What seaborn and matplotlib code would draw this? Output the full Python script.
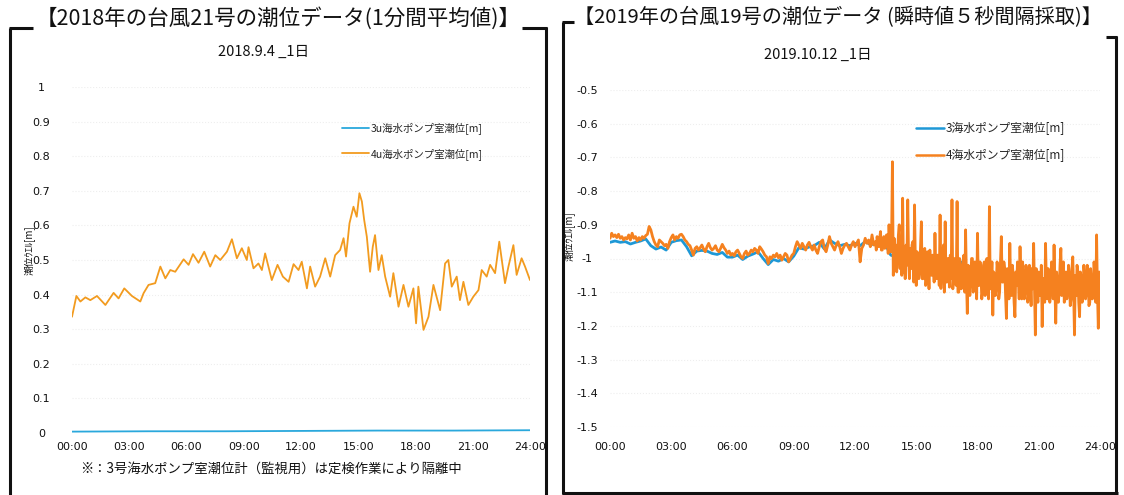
import numpy as np
import pandas as pd
import matplotlib.pyplot as plt
import seaborn as sns
from matplotlib.lines import Line2D

"""Datos leidos del grafico"""

# 2018 台風21号 (1分間平均値) : hora, nivel [m]
h18 = [0.00, 0.23, 0.44, 0.70, 0.96, 1.31, 1.75, 2.18, 2.44, 2.74, 3.14, 3.58, 3.75, 4.01,
       4.36, 4.63, 4.89, 5.15, 5.41, 5.85, 6.11, 6.34, 6.63, 6.93, 7.24, 7.51, 7.77, 8.12,
       8.38, 8.64, 8.90, 9.16, 9.25, 9.51, 9.77, 9.95, 10.12, 10.47, 10.77, 11.05, 11.35,
       11.61, 11.87, 12.04, 12.31, 12.48, 12.74, 13.00, 13.27, 13.53, 13.79, 14.05, 14.23,
       14.36, 14.54, 14.75, 14.92, 15.06, 15.19, 15.31, 15.45, 15.62, 15.76, 15.88, 16.06,
       16.23, 16.41, 16.67, 16.84, 17.11, 17.37, 17.63, 17.89, 18.03, 18.15, 18.42, 18.68,
       18.94, 19.29, 19.55, 19.72, 19.90, 20.16, 20.33, 20.51, 20.77, 21.03, 21.30, 21.47,
       21.73, 21.91, 22.17, 22.39, 22.69, 22.87, 23.13, 23.30, 23.56, 23.74, 24.00]
u4_18 = [0.336, 0.396, 0.380, 0.392, 0.384, 0.396, 0.370, 0.405, 0.389, 0.418, 0.396, 0.380,
         0.404, 0.428, 0.433, 0.481, 0.447, 0.471, 0.466, 0.502, 0.486, 0.517, 0.492, 0.524,
         0.481, 0.514, 0.500, 0.524, 0.560, 0.505, 0.534, 0.500, 0.537, 0.476, 0.490, 0.471,
         0.519, 0.442, 0.486, 0.452, 0.437, 0.488, 0.471, 0.495, 0.418, 0.481, 0.423, 0.452,
         0.505, 0.452, 0.514, 0.529, 0.563, 0.510, 0.606, 0.654, 0.625, 0.693, 0.669, 0.616,
         0.567, 0.466, 0.538, 0.572, 0.471, 0.514, 0.452, 0.394, 0.462, 0.365, 0.428, 0.365,
         0.418, 0.317, 0.423, 0.298, 0.336, 0.428, 0.355, 0.490, 0.500, 0.423, 0.452, 0.384,
         0.437, 0.370, 0.394, 0.413, 0.471, 0.452, 0.486, 0.462, 0.553, 0.433, 0.481, 0.543,
         0.457, 0.505, 0.481, 0.442]
h18_u3 = [0, 4, 8, 12, 16, 20, 24]
u3_18 = [0.004, 0.005, 0.005, 0.006, 0.007, 0.007, 0.008]

# 2019 台風19号 (瞬時値), 4号 : 00:00-13:00 -> 12 valores por hora
u4_19_am = [
    -0.940, -0.925, -0.935, -0.930, -0.938, -0.928, -0.940, -0.935, -0.945, -0.938, -0.942, -0.930,  # 0h
    -0.945, -0.925, -0.940, -0.935, -0.948, -0.938, -0.945, -0.935, -0.940, -0.932, -0.928, -0.905,  # 1h
    -0.915, -0.935, -0.950, -0.960, -0.965, -0.945, -0.950, -0.955, -0.962, -0.958, -0.970, -0.950,  # 2h
    -0.938, -0.930, -0.945, -0.935, -0.940, -0.930, -0.928, -0.935, -0.945, -0.950, -0.958, -0.962,  # 3h
    -0.975, -0.990, -0.970, -0.965, -0.975, -0.968, -0.960, -0.972, -0.980, -0.965, -0.955, -0.968,  # 4h
    -0.975, -0.970, -0.962, -0.975, -0.980, -0.970, -0.958, -0.968, -0.975, -0.985, -0.978, -0.990,  # 5h
    -0.985, -0.992, -0.980, -0.975, -0.985, -0.995, -1.000, -0.985, -0.978, -0.990, -0.985, -0.975,  # 6h
    -0.980, -0.970, -0.975, -0.985, -0.965, -0.972, -0.980, -0.990, -0.995, -1.015, -0.995, -1.000,  # 7h
    -0.990, -0.995, -0.985, -0.998, -0.990, -1.005, -0.995, -0.985, -0.990, -1.010, -1.000, -0.990,  # 8h
    -0.985, -0.965, -0.950, -0.960, -0.970, -0.955, -0.965, -0.975, -0.960, -0.952, -0.965, -0.975,  # 9h
    -0.960, -0.975, -0.985, -0.965, -0.950, -0.945, -0.970, -0.980, -0.960, -0.935, -0.955, -0.965,  # 10h
    -0.975, -0.960, -0.950, -0.965, -0.985, -0.970, -0.960, -0.955, -0.965, -0.975, -0.960, -0.950,  # 11h
    -0.965, -0.955, -0.945, -1.010, -0.970, -0.960, -0.940, -0.955, -0.945, -0.965, -0.930, -0.960]  # 12h
# 4号 : 13:00-24:00 -> 24 valores por hora (oscilacion fuerte)
u4_19_pm = [
    -0.950, -0.975, -0.935, -0.960, -0.965, -0.940, -0.920, -0.975, -0.975, -0.945, -0.935, -0.970,
    -0.960, -0.930, -0.930, -0.985, -0.900, -0.960, -0.980, -0.940, -0.713, -1.050, -0.940, -0.990,  # 13h
    -0.960, -1.040, -0.990, -0.930, -0.900, -1.030, -0.960, -1.050, -0.821, -1.040, -0.970, -1.060,
    -0.960, -1.020, -0.826, -1.000, -1.060, -0.970, -1.030, -0.960, -0.950, -1.070, -0.841, -1.020,  # 14h
    -1.080, -0.980, -0.990, -1.060, -1.040, -0.970, -0.891, -1.060, -1.060, -0.990, -0.970, -1.080,
    -1.070, -0.980, -1.010, -1.090, -0.975, -1.040, -1.050, -0.990, -1.000, -1.070, -0.925, -1.040,  # 15h
    -1.060, -0.990, -0.995, -1.080, -0.871, -1.089, -1.020, -0.990, -0.960, -1.100, -0.891, -1.070,
    -1.070, -1.000, -1.000, -1.085, -0.990, -1.060, -0.826, -1.090, -1.050, -1.000, -1.010, -1.080,  # 16h
    -0.831, -1.100, -1.100, -1.000, -1.030, -1.090, -1.060, -1.010, -0.990, -1.100, -0.915, -1.060,
    -1.163, -1.020, -1.040, -1.110, -1.070, -1.000, -1.000, -1.100, -1.060, -1.010, -1.020, -1.120,  # 17h
    -0.925, -1.080, -1.080, -1.010, -1.040, -1.120, -1.100, -1.020, -1.010, -1.110, -1.070, -1.000,
    -1.030, -1.120, -0.846, -1.090, -1.090, -1.010, -1.168, -1.040, -1.050, -1.110, -1.080, -1.010,  # 18h
    -1.040, -1.120, -1.100, -1.010, -0.935, -1.070, -1.070, -1.010, -1.030, -1.110, -1.178, -1.030,
    -1.060, -1.120, -0.955, -1.080, -1.110, -1.020, -1.050, -1.130, -1.173, -1.040, -1.080, -1.010,  # 19h
    -1.060, -1.120, -0.965, -1.080, -1.120, -1.010, -1.050, -1.120, -1.090, -1.020, -1.040, -1.130,
    -1.110, -1.020, -1.070, -1.140, -1.030, -1.090, -0.955, -1.100, -1.227, -1.030, -1.080, -1.130,  # 20h
    -1.040, -1.110, -1.110, -1.020, -1.202, -1.060, -1.060, -1.130, -0.955, -1.080, -1.120, -1.030,
    -1.050, -1.130, -1.090, -1.010, -1.030, -1.120, -0.960, -1.090, -1.192, -1.040, -1.070, -1.130,  # 21h
    -1.100, -1.020, -0.970, -1.110, -1.060, -1.010, -1.130, -1.060, -1.040, -1.120, -1.090, -1.020,
    -1.050, -1.140, -1.120, -1.030, -0.995, -1.100, -1.227, -1.050, -1.110, -1.020, -1.040, -1.130,  # 22h
    -1.173, -1.040, -1.060, -1.130, -1.090, -1.020, -1.050, -1.120, -1.100, -1.020, -1.060, -1.140,
    -1.130, -1.030, -1.070, -1.120, -1.110, -1.010, -1.060, -1.130, -0.930, -1.100, -1.207, -1.040,  # 23h
    -1.050]
# 3号: 4 valores por hora
u3_19 = [
    -0.952, -0.948, -0.952, -0.950, -0.957, -0.952, -0.948, -0.942,
    -0.962, -0.972, -0.966, -0.975, -0.952, -0.947, -0.945, -0.965,
    -0.992, -0.978, -0.976, -0.978, -0.985, -0.988, -0.982, -0.996,
    -0.996, -0.990, -1.003, -0.993, -0.987, -0.980, -1.000, -1.018,
    -1.003, -1.008, -1.000, -1.010, -0.993, -0.968, -0.972, -0.966,
    -0.962, -0.952, -0.972, -0.945, -0.955, -0.962, -0.958, -0.962,
    -0.955, -0.962, -0.950, -0.958, -0.958, -0.945, -0.960, -0.990,
    -0.995, -0.990, -1.000, -0.990, -1.000, -1.005, -0.995, -1.000,
    -1.010, -0.995, -1.005, -1.020, -1.030, -1.010, -1.040, -1.050,
    -1.040, -1.060, -1.050, -1.065, -1.055, -1.065, -1.050, -1.075,
    -1.065, -1.055, -1.075, -1.070, -1.075, -1.065, -1.085, -1.070,
    -1.080, -1.065, -1.075, -1.085, -1.075, -1.065, -1.080, -1.070,
    -1.075]

xticks = [0, 3, 6, 9, 12, 15, 18, 21, 24]
xlabels = ["00:00", "03:00", "06:00", "09:00", "12:00", "15:00", "18:00", "21:00", "24:00"]
yt18 = [0, 0.1, 0.2, 0.3, 0.4, 0.5, 0.6, 0.7, 0.8, 0.9, 1]
yl18 = ["0", "0.1", "0.2", "0.3", "0.4", "0.5", "0.6", "0.7", "0.8", "0.9", "1"]
yt19 = [-1.5, -1.4, -1.3, -1.2, -1.1, -1, -0.9, -0.8, -0.7, -0.6, -0.5]
yl19 = ["-1.5", "-1.4", "-1.3", "-1.2", "-1.1", "-1", "-0.9", "-0.8", "-0.7", "-0.6", "-0.5"]

lab3_18, lab4_18 = "3u海水ポンプ室潮位[m]", "4u海水ポンプ室潮位[m]"
lab3_19, lab4_19 = "3海水ポンプ室潮位[m]", "4海水ポンプ室潮位[m]"

# tiempos: muestreo regular
t4_19 = np.concatenate([np.linspace(0, 13, len(u4_19_am) + 1)[:-1],
                        np.linspace(13, 24, len(u4_19_pm))])

df18 = pd.concat([
    pd.DataFrame({"hora": h18_u3, "nivel": u3_18, "serie": lab3_18}),
    pd.DataFrame({"hora": h18, "nivel": u4_18, "serie": lab4_18})])
df19 = pd.concat([
    pd.DataFrame({"hora": np.linspace(0, 24, len(u3_19)), "nivel": u3_19, "serie": lab3_19}),
    pd.DataFrame({"hora": t4_19, "nivel": u4_19_am + u4_19_pm, "serie": lab4_19})])

"""Grafico"""

sns.set_theme(style="white")
plt.rcParams['font.family'] = ['DejaVu Sans', 'Noto Sans CJK JP']
jp = ['Noto Sans CJK JP', 'DejaVu Sans']

W, H = 1124, 495
fig = plt.figure(figsize=(W / 100, H / 100), dpi=100)

def px(x0, y0, x1, y1):
    # rectangulo en pixeles -> fraccion de figura
    return [x0 / W, 1 - y1 / H, (x1 - x0) / W, (y1 - y0) / H]

ax1 = fig.add_axes(px(72, 87, 530, 433))
ax2 = fig.add_axes(px(610, 90, 1100, 427))

sns.lineplot(data=df18, x="hora", y="nivel", hue="serie", estimator=None, sort=False,
             palette={lab3_18: "#2aa8dc", lab4_18: "#f29b1f"}, linewidth=1.3, ax=ax1)
sns.lineplot(data=df19, x="hora", y="nivel", hue="serie", estimator=None, sort=False,
             palette={lab3_19: "#1e98d6", lab4_19: "#f5811f"}, linewidth=2.0, ax=ax2)

for ax, yt, yl, ylim, xpad, ypad in [(ax1, yt18, yl18, (0, 1), 6.5, 22),
                                     (ax2, yt19, yl19, (-1.5, -0.5), 11, 16.5)]:
    ax.set_xlim(0, 24)
    ax.set_ylim(*ylim)
    ax.set_xticks(xticks)
    ax.set_xticklabels(xlabels)
    ax.set_yticks(yt)
    ax.set_yticklabels(yl, ha="center")
    ax.tick_params(axis="x", length=0, pad=xpad, labelsize=8, labelcolor="#111111")
    ax.tick_params(axis="y", length=0, pad=ypad, labelsize=8, labelcolor="#111111")
    ax.grid(axis="y", color="#eeeeee", linestyle=":", linewidth=0.8)
    for s in ax.spines.values():
        s.set_visible(False)
    ax.set_xlabel("")
    ax.set_ylabel("")
    ax.set_facecolor("none")

h, l = ax1.get_legend_handles_labels()
ax1.legend(h, l, loc="upper left", bbox_to_anchor=(337 / W, 1 - 117 / H),
           bbox_transform=fig.transFigure, frameon=False, borderpad=0,
           handlelength=2.6, handletextpad=0.1, labelspacing=1.3,
           prop={"family": jp, "size": 7.5})
h, l = ax2.get_legend_handles_labels()
leg = ax2.legend(h, l, loc="upper left", bbox_to_anchor=(910 / W, 1 - 116 / H),
                 bbox_transform=fig.transFigure, frameon=False, borderpad=0,
                 handlelength=2.4, handletextpad=0.1, labelspacing=1.15,
                 prop={"family": jp, "size": 8.5})
for ln in leg.get_lines():
    ln.set_linewidth(1.8)

# titulos y textos
fig.text(278 / W, 1 - 18 / H, "【2018年の台風21号の潮位データ(1分間平均値)】", ha="center",
         va="center", fontsize=15.5, family=jp, color="#111111")
fig.text(838 / W, 1 - 18 / H, "【2019年の台風19号の潮位データ (瞬時値５秒間隔採取)】",
         ha="center", va="center", fontsize=14.5, family=jp, color="#111111")
fig.text(264 / W, 1 - 52 / H, "2018.9.4 _1日", ha="center", va="center",
         fontsize=10.5, family=jp, color="#111111")
fig.text(818 / W, 1 - 55 / H, "2019.10.12 _1日", ha="center", va="center",
         fontsize=10.5, family=jp, color="#111111")
fig.text(29 / W, 1 - 250 / H, "潮位ｳｴﾙ[m]", rotation=90, ha="center", va="center",
         fontsize=7, family=jp, color="#111111")
fig.text(569 / W, 1 - 236 / H, "潮位ｳｴﾙ[m]", rotation=90, ha="center", va="center",
         fontsize=7, family=jp, color="#111111")
fig.text(80 / W, 1 - 469 / H, "※：3号海水ポンプ室潮位計（監視用）は定検作業により隔離中",
         ha="left", va="center", fontsize=9.6, family=jp, color="#111111")

# marcos
def seg(x0, y0, x1, y1):
    fig.add_artist(Line2D([x0 / W, x1 / W], [1 - y0 / H, 1 - y1 / H],
                          color="#111111", linewidth=2.2, solid_capstyle="butt"))

seg(10, 28, 10, 495)
seg(9, 28, 33, 28)
seg(522, 28, 547, 28)
seg(546, 27, 546, 495)
seg(563, 22, 563, 494)
seg(562, 22, 574, 22)
seg(562, 493, 1118, 493)
seg(1106, 37, 1117, 37)
seg(1116, 36, 1116, 494)

plt.savefig("out.png", dpi=100)
